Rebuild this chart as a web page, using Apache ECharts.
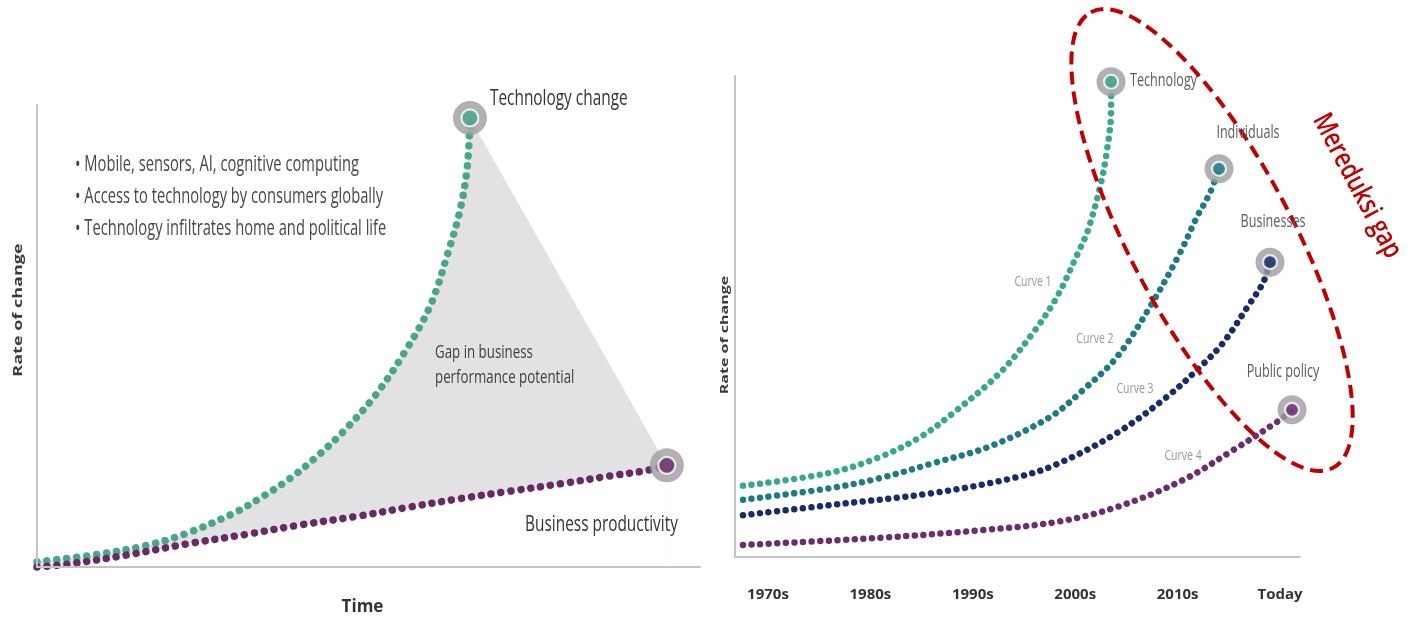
<!DOCTYPE html>
<html>
<head>
<meta charset="utf-8">
<script src="https://cdn.jsdelivr.net/npm/echarts@6/dist/echarts.min.js"></script>
<style>
  html, body { margin: 0; padding: 0; background: #fff; }
  #chart { width: 1412px; height: 621px; }
</style>
</head>
<body>
<div id="chart"></div>
<script>
// ---- Left panel: time (0-100) vs rate of change (0-100) ----
const techChange = [
  [0, 1.1], [9.5, 2.8], [16.6, 4.7], [22.6, 7.3], [29.6, 11.6], [34.1, 15.3],
  [38.2, 19.2], [42.2, 23.9], [46.2, 29.3], [51.0, 37.1], [55.5, 46.6],
  [59.3, 56.5], [62.0, 68.1], [63.8, 77.2], [64.9, 86.6], [65.3, 97.2]
];
const businessProductivity = [
  [0, 0], [4.5, 0.6], [13.6, 2.6], [22.6, 5.0], [31.7, 7.1], [39.7, 9.1],
  [48.4, 11.0], [56.3, 13.0], [63.8, 14.8], [71.3, 16.4], [78.9, 18.0],
  [86.4, 19.7], [92.0, 20.9], [95.0, 22.0]
];
const bulletPoints = [
  'Mobile, sensors, AI, cognitive computing',
  'Access to technology by consumers globally',
  'Technology infiltrates home and political life'
];

// ---- Right panel: decades (0 = 1970s ... 5 = Today) vs rate of change ----
const decades = ['1970s', '1980s', '1990s', '2000s', '2010s', 'Today'];
const curveTechnology = [
  [-0.244, 14.8], [0.605, 17.5], [1.094, 20.8], [1.484, 24.9], [1.807, 29.9],
  [2.266, 38.3], [2.588, 46.6], [2.822, 54.1], [3.027, 63.2], [3.125, 68.0],
  [3.242, 76.9], [3.311, 84.6], [3.35, 92.9], [3.35, 98.8]
];
const curveIndividuals = [
  [-0.244, 11.9], [0.605, 14.3], [1.094, 16.4], [1.611, 19.5], [2.168, 23.0],
  [2.754, 29.1], [3.076, 34.7], [3.408, 41.6], [3.730, 52.0], [4.023, 63.2],
  [4.189, 70.7], [4.316, 75.7], [4.404, 80.7]
];
const curveBusinesses = [
  [-0.244, 8.7], [0.605, 10.8], [1.611, 13.3], [2.432, 16.6], [2.822, 19.3],
  [3.408, 25.8], [3.896, 33.3], [4.219, 39.5], [4.443, 44.5], [4.707, 52.8],
  [4.834, 57.0], [4.902, 61.3]
];
const curvePublicPolicy = [
  [-0.244, 2.5], [1.094, 4.0], [2.100, 5.6], [2.822, 7.3], [3.408, 10.4],
  [4.053, 16.0], [4.541, 22.2], [4.971, 28.1], [5.117, 30.6]
];
const endpointNames = ['Technology', 'Individuals', 'Businesses', 'Public policy'];
const curveNames = ['Curve 1', 'Curve 2', 'Curve 3', 'Curve 4'];
const curveLabelAt = [[2.588, 57.2], [3.193, 45.3], [3.584, 34.9], [4.053, 21.0]];

// ---- styling ----
const FONT = '"Open Sans", "Liberation Sans", sans-serif';
const COND = 0.7;                // condensed look of the annotation type
const GREEN = '#4aa68b', PURPLE = '#672a65', GAP = '#e2e2e4', RING = '#9e9ea0';
const rightColors = ['#38a78b', '#1d7b84', '#192b6a', '#6b2d6d'];
const rightCurves = [curveTechnology, curveIndividuals, curveBusinesses, curvePublicPolicy];
const SMOOTH = 0.35;

function dotted(color, size, gap) {
  return { color: color, width: size, type: [0.001, gap], cap: 'round' };
}
function lastOf(arr) { return arr[arr.length - 1]; }
function dotLine(name, data, color, size, gap, grid) {
  return {
    name: name, type: 'line', data: data, xAxisIndex: grid, yAxisIndex: grid,
    smooth: SMOOTH, symbol: 'none', clip: false, z: 5,
    lineStyle: dotted(color, size, gap), silent: true
  };
}
function fill(name, data, color, z) {
  return {
    name: name, type: 'line', data: data, xAxisIndex: 0, yAxisIndex: 0,
    smooth: SMOOTH, symbol: 'none', clip: false, z: z,
    lineStyle: { width: 0, opacity: 0 }, areaStyle: { color: color, opacity: 1 }, silent: true
  };
}
function endpoints(grid, points, colors, ring, dot) {
  return [{
    type: 'scatter', xAxisIndex: grid, yAxisIndex: grid, symbolSize: ring, z: 8, clip: false,
    data: points, itemStyle: { color: RING }, silent: true
  }, {
    type: 'scatter', xAxisIndex: grid, yAxisIndex: grid, symbolSize: dot, z: 9, clip: false,
    data: points.map((p, i) => ({ value: p, itemStyle: { color: colors[i] } })),
    itemStyle: { borderColor: '#fff', borderWidth: 2.2 }, silent: true
  }];
}

const axisLine = { show: true, onZero: false, lineStyle: { color: '#c4c4c4', width: 2 } };

const option = {
  animation: false,
  backgroundColor: '#fff',
  grid: [
    { left: 37, right: 712, top: 105, bottom: 52 },
    { left: 735, right: 112, top: 76, bottom: 64 }
  ],
  xAxis: [{
    gridIndex: 0, type: 'value', min: 0, max: 100, z: 10,
    axisLine: axisLine, axisTick: { show: false }, axisLabel: { show: false }, splitLine: { show: false },
    name: 'Time', nameLocation: 'middle', nameGap: 32,
    nameTextStyle: { fontFamily: FONT, fontWeight: 'bold', fontSize: 17, color: '#333', padding: [0, 12, 0, 0] }
  }, {
    gridIndex: 1, type: 'value', min: -0.322, max: 5.195, z: 10,
    axisLine: axisLine, axisTick: { show: false }, splitLine: { show: false },
    axisLabel: {
      customValues: [0, 1, 2, 3, 4, 5], margin: 30,
      formatter: v => decades[Math.round(v)],
      fontFamily: FONT, fontWeight: 'bold', fontSize: 15, color: '#333'
    }
  }],
  yAxis: [{
    gridIndex: 0, type: 'value', min: 0, max: 100, z: 10,
    axisLine: axisLine, axisTick: { show: false }, axisLabel: { show: false }, splitLine: { show: false }
  }, {
    gridIndex: 1, type: 'value', min: 0, max: 100, z: 10,
    axisLine: axisLine, axisTick: { show: false }, axisLabel: { show: false }, splitLine: { show: false }
  }],
  series: [
    // gap region: grey under the technology curve and the closing edge, white under productivity
    fill('gapCurve', techChange, GAP, 1),
    fill('gapEdge', [lastOf(techChange), lastOf(businessProductivity)], GAP, 1),
    fill('belowProductivity', businessProductivity, '#ffffff', 2),
    dotLine('Technology change', techChange, GREEN, 7.5, 10, 0),
    dotLine('Business productivity', businessProductivity, PURPLE, 7.5, 10, 0),
    ...endpoints(0, [lastOf(techChange), lastOf(businessProductivity)], [GREEN, PURPLE], 34, 17),
    ...rightCurves.map((c, i) => dotLine(endpointNames[i], c, rightColors[i], 6.5, 8.6, 1)),
    ...endpoints(1, rightCurves.map(lastOf), rightColors, 29, 14)
  ]
};

const chart = echarts.init(document.getElementById('chart'));
chart.setOption(option);

const px = (g, p) => chart.convertToPixel({ gridIndex: g }, p);
function text(str, pos, o) {
  o = o || {};
  return {
    type: 'text', x: pos[0], y: pos[1], z: 100, silent: true,
    scaleX: o.scaleX != null ? o.scaleX : COND, scaleY: o.scaleY != null ? o.scaleY : 1,
    rotation: o.rotation || 0,
    style: {
      text: str, fill: o.color || '#3c3c3c',
      font: (o.weight || 'normal') + ' ' + (o.size || 20) + 'px ' + (o.family || FONT),
      textAlign: o.align || 'left', textVerticalAlign: 'middle'
    }
  };
}
const add = (p, d) => [p[0] + d[0], p[1] + d[1]];

const graphics = [];
// left panel annotations
const techEnd = px(0, lastOf(techChange));
const prodEnd = px(0, lastOf(businessProductivity));
graphics.push(text('Technology change', add(techEnd, [20, -19]), { size: 22, color: '#333' }));
graphics.push(text('Business productivity', add(prodEnd, [11, 59]), { size: 22, align: 'right', color: '#333' }));
bulletPoints.forEach((b, i) => graphics.push(text('\u2022 ' + b, [75, 165 + 32 * i], { size: 21, color: '#474747' })));
graphics.push(text('Gap in business', [435, 353], { size: 19, color: '#404040' }));
graphics.push(text('performance potential', [435, 378], { size: 19, color: '#404040' }));
graphics.push(text('Rate of change', [18, 310], { size: 18, weight: 'bold', scaleX: 1, scaleY: COND, rotation: Math.PI / 2, align: 'center', color: '#3a3a3a' }));

// right panel annotations
const endOffsets = [[19, -1], [29, -36], [3, -40], [-9, -38]];
rightCurves.forEach((c, i) => {
  const p = px(1, lastOf(c));
  graphics.push(text(endpointNames[i], add(p, endOffsets[i]), { size: 18, color: '#5c5c5c', align: i === 0 ? 'left' : 'center' }));
});
curveNames.forEach((n, i) => graphics.push(text(n, px(1, curveLabelAt[i]), { size: 15, color: '#999', align: 'center' })));
graphics.push(text('Rate of change', [725, 335], { size: 16, weight: 'bold', scaleX: 1, scaleY: COND, rotation: Math.PI / 2, align: 'center', color: '#3a3a3a' }));

// highlighted area: dashed red ellipse with its caption
const tilt = -62 * Math.PI / 180;
const ellipseCenter = px(1, [4.336, 65.9]);
graphics.push({
  type: 'ellipse', x: ellipseCenter[0], y: ellipseCenter[1], rotation: tilt, z: 90, silent: true,
  shape: { cx: 0, cy: 0, rx: 258, ry: 81 },
  style: { fill: null, stroke: '#c00000', lineWidth: 4, lineDash: [13, 7] }
});
graphics.push(text('Mereduksi gap', [1357, 186], { size: 28, weight: 600, color: '#c00000', align: 'center', scaleX: 0.8, rotation: tilt }));

chart.setOption({ graphic: graphics });
</script>
</body>
</html>
